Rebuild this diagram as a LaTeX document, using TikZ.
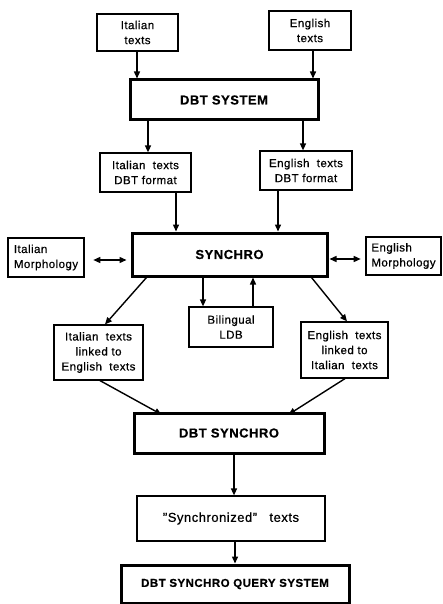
\documentclass[tikz,border=0pt]{standalone}
\usepackage{fontspec}
\setmainfont{Liberation Sans}[LetterSpace=4, FakeBold=0.6]
\usetikzlibrary{arrows.meta}

\begin{document}
\begin{tikzpicture}[x=1pt, y=-1pt,
    plain/.style={draw, line width=1.2pt, inner sep=0pt, align=center, font=\fontsize{11.5}{15}\selectfont},
    heavy/.style={draw, line width=3pt, inner sep=0pt, align=center, font=\fontsize{13}{16}\selectfont\bfseries},
    morph/.style={draw, line width=2.6pt, inner sep=0pt, align=left, font=\fontsize{11.5}{15}\selectfont},
    arr/.style={-{Triangle[length=7pt, width=6pt]}, line width=1.4pt},
    dbl/.style={{Triangle[length=7pt, width=6pt]}-{Triangle[length=7pt, width=6pt]}, line width=1.4pt}]
    \useasboundingbox (0, 0) rectangle (443, 604);

    \node[plain, minimum width=81, minimum height=37] (itin) at (137.5, 32.5) {Italian\\texts};
    \node[plain, minimum width=82, minimum height=39] (enin) at (310, 30.5) {English\\texts};
    \node[heavy, minimum width=188, minimum height=40] (dbt) at (224, 100) {DBT SYSTEM};
    \node[plain, minimum width=91, minimum height=39] (itdbt) at (145.5, 172.5) {Italian\ \ texts\\DBT format};
    \node[plain, minimum width=92, minimum height=39] (endbt) at (306, 170.5) {English\ \ texts\\DBT format};
    \node[heavy, minimum width=195, minimum height=43] (synchro) at (229.5, 254.5) {SYNCHRO};
    \node[morph, minimum width=76, minimum height=39] (itmorph) at (46, 257.5) {Italian\\Morphology};
    \node[morph, minimum width=75, minimum height=38] (enmorph) at (403.5, 256) {English\\Morphology};
    \node[plain, minimum width=84, minimum height=40] (ldb) at (231, 327) {Bilingual\\LDB};
    \node[plain, minimum width=89, minimum height=55] (itlink) at (98.5, 352.5) {Italian\ \ texts\\linked to\\English\ \ texts};
    \node[plain, minimum width=87, minimum height=56] (enlink) at (344.5, 350) {English\ \ texts\\linked to\\Italian\ \ texts};
    \node[heavy, minimum width=190, minimum height=40] (dbtsync) at (229, 433) {DBT SYNCHRO};
    \node[plain, minimum width=188, minimum height=45, font=\fontsize{13}{16}\selectfont] (synced) at (231, 518.5) {"Synchronized"\ \ \ texts};
    \node[heavy, minimum width=228, minimum height=38, font=\fontsize{11.5}{14}\selectfont\bfseries] (query) at (235, 584) {DBT SYNCHRO QUERY SYSTEM};

    % inputs
    \draw[arr] ([xshift=-0.5]itin.south) -- ([xshift=-0.5]itin.south |- dbt.north);
    \draw[arr] ([xshift=3]enin.south) -- ([xshift=3]enin.south |- dbt.north);
    \draw[arr] (dbt.south -| itdbt.north) ++(2.5, 0) -- ([xshift=2.5]itdbt.north);
    \draw[arr] (dbt.south -| endbt.north) ++(-3, 0) -- ([xshift=-3]endbt.north);
    \draw[arr] ([xshift=30.5]itdbt.south) -- ([xshift=30.5]itdbt.south |- synchro.north);
    \draw[arr] ([xshift=-28]endbt.south) -- ([xshift=-28]endbt.south |- synchro.north);

    % morphology and LDB
    \draw[dbl, shorten <=8pt, shorten >=4pt] ([yshift=-2.5]itmorph.east) -- ([yshift=-2.5]itmorph.east -| synchro.west);
    \draw[dbl, shorten <=1pt, shorten >=4pt] ([yshift=-3]synchro.east |- enmorph.west) -- ([yshift=-3]enmorph.west);
    \draw[arr] ([xshift=-28]ldb.north |- synchro.south) -- ([xshift=-28]ldb.north);
    \draw[arr] ([xshift=22]ldb.north) -- ([xshift=22]ldb.north |- synchro.south);

    % linked texts
    \draw[arr] ([xshift=16]synchro.south west) -- ([xshift=6.5]itlink.north);
    \draw[arr] ([xshift=-17]synchro.south east) -- ([xshift=2.5]enlink.north);
    \draw[arr] ([xshift=1.5]itlink.south) -- ([xshift=29, yshift=-3]dbtsync.north west);
    \draw[arr] ([xshift=0.5]enlink.south) -- ([xshift=-37, yshift=-3]dbtsync.north east);

    % output
    \draw[arr] ([xshift=5]dbtsync.south) -- ([xshift=5]dbtsync.south |- synced.north);
    \draw[arr] ([xshift=4]synced.south) -- ([xshift=4]synced.south |- query.north);
\end{tikzpicture}
\end{document}
